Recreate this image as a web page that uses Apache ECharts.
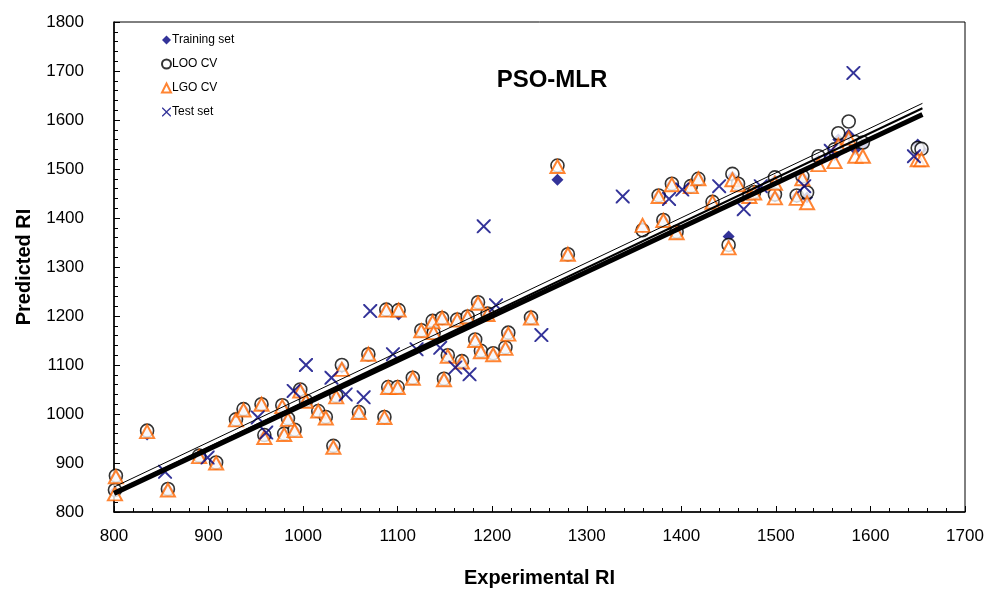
<!DOCTYPE html>
<html>
<head>
<meta charset="utf-8">
<script src="https://cdn.jsdelivr.net/npm/echarts@6/dist/echarts.min.js"></script>
<style>html,body{margin:0;padding:0;background:#fff}#c{width:990px;height:593px}</style>
</head>
<body>
<div id="c"></div>
<script>
// Experimental RI of training compounds (shared by Training / LOO / LGO)
const expX = [802,801,835,857,890,908,929,937,956,959,978,984,980,991,997,1003,1016,1024,1032,1041,1035,1069,1088,1101,1125,1137,1147,1138,1163,1174,1185,1195,1241,1217,1182,1188,1201,1214,1153,1168,1090,1100,1116,1149,1059,1086,1269,1280,1359,1381,1395,1376,1390,1410,1418,1433,1450,1454,1460,1472,1477,1499,1499,1522,1528,1533,1545,1562,1566,1577,1584,1592,1650,1654];
const trainPred = [872,842,958,845,914,900,988,1009,1019,955,1016,990,959,967,1048,1026,1005,993,933,1095,1036,1121,1211,1203,1170,1189,1195,1164,1192,1198,1227,1204,1196,1165,1151,1128,1122,1135,1119,1107,1054,1054,1073,1071,1003,993,1478,1325,1380,1395,1371,1445,1469,1464,1480,1432,1362,1484,1469,1446,1452,1477,1444,1443,1483,1442,1518,1528,1560,1570,1540,1550,1550,1540];
const looPred = [874,845,966,847,915,901,989,1010,1020,957,1018,991,960,968,1050,1027,1006,994,935,1100,1037,1122,1213,1212,1171,1190,1196,1165,1193,1199,1228,1205,1197,1166,1152,1129,1124,1136,1120,1108,1055,1055,1074,1072,1004,994,1507,1326,1375,1396,1372,1446,1470,1465,1480,1433,1345,1490,1470,1448,1453,1483,1448,1446,1485,1452,1526,1540,1573,1597,1555,1554,1543,1541];
const lgoPred = [872,837,964,845,913,900,988,1008,1020,952,1015,989,958,966,1047,1026,1006,992,932,1091,1035,1122,1212,1212,1170,1188,1196,1166,1192,1198,1226,1203,1196,1163,1150,1127,1121,1134,1118,1106,1054,1054,1073,1070,1003,993,1505,1326,1385,1395,1370,1444,1468,1464,1480,1432,1339,1478,1468,1444,1451,1471,1441,1440,1480,1431,1509,1515,1548,1563,1526,1526,1519,1519];
// Test set
const testX = [854,899,952,961,990,1003,1030,1045,1064,1071,1095,1120,1145,1161,1176,1191,1204,1252,1338,1387,1401,1440,1466,1484,1530,1558,1582,1646];
const testPred = [882,911,993,962,1047,1100,1074,1040,1034,1210,1122,1132,1135,1095,1081,1383,1222,1161,1444,1439,1458,1465,1418,1465,1465,1537,1696,1526];
// Regression lines (endpoints in RI units)
const fitX = [800,1655];
const fitThick = [838,1611];
const fitMid = [840,1624];
const fitThin = [851,1634];
// Axis ticks
const xTicks = [800,900,1000,1100,1200,1300,1400,1500,1600,1700];
const yTicks = [800,900,1000,1100,1200,1300,1400,1500,1600,1700,1800];

const FONT = 'Arial, "Liberation Sans", sans-serif';
const xPath = 'path://M0,0 L2,0 L10,8 L18,0 L20,0 L20,2 L12,10 L20,18 L20,20 L18,20 L10,12 L2,20 L0,20 L0,18 L8,10 L0,2 Z';
const zip = (a,b)=>a.map((v,i)=>[v,b[i]]);

const chart = echarts.init(document.getElementById('c'), null, {renderer:'canvas'});
const lineSeries = (ys, w) => ({
  type:'line', data: zip(fitX, ys), symbol:'none', silent:true, z:10,
  lineStyle:{color:'#000', width:w}
});
const scat = (name, xs, ys, symbol, size, style, z) => ({
  name, type:'scatter', data:zip(xs, ys), symbol, symbolSize:size,
  itemStyle:style, z, silent:true, emphasis:{disabled:true}
});
chart.setOption({
  animation:false,
  backgroundColor:'#fff',
  tooltip:{show:false},
  title:{text:'PSO-MLR', left:547, top:63, textAlign:'center',
    textStyle:{fontFamily:FONT, fontSize:24, fontWeight:'bold', color:'#000'}},
  legend:{
    orient:'vertical', left:156, top:29, itemWidth:9, itemHeight:9, itemGap:12,
    selectedMode:false,
    textStyle:{fontFamily:FONT, fontSize:12, color:'#000', padding:[0,0,0,-4]},
    data:['Training set','LOO CV','LGO CV','Test set']
  },
  grid:{left:114, right:25, top:22, bottom:80, show:true, borderColor:'#000', borderWidth:1},
  xAxis:{
    type:'value', min:800, max:1700, interval:100,
    name:'Experimental RI', nameLocation:'middle', nameGap:56,
    nameTextStyle:{fontFamily:FONT, fontSize:20, fontWeight:'bold', color:'#000'},
    axisLine:{lineStyle:{color:'#000', width:1.5}},
    axisTick:{inside:true, length:6, lineStyle:{color:'#000'}},
    minorTick:{show:true, splitNumber:5, length:4, lineStyle:{color:'#000'}},
    axisLabel:{margin:16, fontFamily:FONT, fontSize:17, color:'#000',
      formatter:v=>xTicks.includes(v)?String(v):''},
    splitLine:{show:false}
  },
  yAxis:{
    type:'value', min:800, max:1800, interval:100,
    name:'Predicted RI', nameLocation:'middle', nameGap:80,
    nameTextStyle:{fontFamily:FONT, fontSize:20, fontWeight:'bold', color:'#000'},
    axisLine:{lineStyle:{color:'#000', width:1.5}},
    axisTick:{inside:true, length:6, lineStyle:{color:'#000'}},
    minorTick:{show:true, splitNumber:5, length:4, lineStyle:{color:'#000'}},
    axisLabel:{margin:30, fontFamily:FONT, fontSize:17, color:'#000',
      formatter:v=>yTicks.includes(v)?String(v):''},
    splitLine:{show:false}
  },
  series:[
    scat('Training set', expX, trainPred, 'diamond', 12, {color:'#000080'}, 2),
    scat('LOO CV', expX, looPred, 'circle', 13, {color:'#fff', borderColor:'#000', borderWidth:1.6}, 3),
    scat('LGO CV', expX, lgoPred, 'triangle', [14,13], {color:'#fff', borderColor:'#FF6600', borderWidth:2}, 4),
    scat('Test set', testX, testPred, xPath, 14, {color:'#000080'}, 5),
    lineSeries(fitThin, 1),
    lineSeries(fitMid, 2),
    lineSeries(fitThick, 5)
  ]
});
</script>
</body>
</html>
